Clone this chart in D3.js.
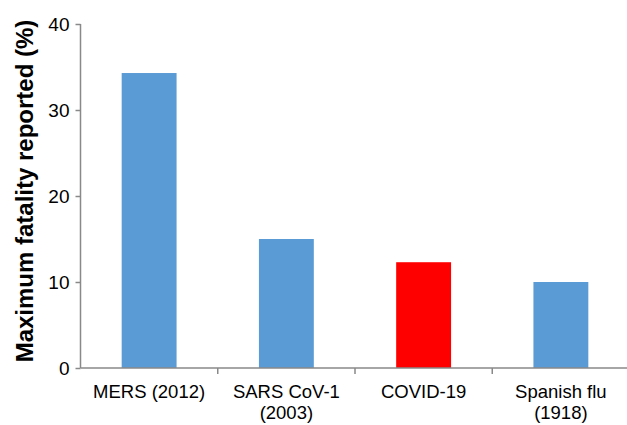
<!DOCTYPE html>
<html>
<head>
<meta charset="utf-8">
<script src="https://cdn.jsdelivr.net/npm/d3@7"></script>
<style>
  body { margin: 0; background: #fff; }
  svg { display: block; font-family: "Liberation Sans", Arial, sans-serif; }
</style>
</head>
<body>
<div id="chart"></div>
<script>
// fatality comparison

var categories = [['MERS (2012)'], ['SARS CoV-1', '(2003)'], ['COVID-19'], ['Spanish flu', '(1918)']]
var fatality = [34.3, 15, 12.3, 10]
var barColors = ['#5b9bd5', '#5b9bd5', '#ff0000', '#5b9bd5']
var yTicks = [0, 10, 20, 30, 40]

var width = 627,
	height = 425,
	axisColor = '#898989'

var xScale = d3.scaleBand()
			   .domain(d3.range(0, categories.length))
			   .range([80.5, 629.5])
			   .padding(0)

var yScale = d3.scaleLinear()
			   .domain([0, 40])
			   .range([368, 24])

var svg = d3.select('#chart')
  .append('svg')
	  .attr('width', width)
	  .attr('height', height)

// bars
var barW = xScale.bandwidth() * 0.4
svg.selectAll('rect.bar').data(fatality)
  .enter().append('rect')
	.classed('bar', true)
	.attr('x', function(d, i){ return xScale(i) + xScale.bandwidth() / 2 - barW / 2 })
	.attr('y', function(d){ return yScale(d) })
	.attr('width', barW)
	.attr('height', function(d){ return yScale(0) - yScale(d) })
	.style('fill', function(d, i){ return barColors[i] })

// y axis
var yAxis = svg.append('g')
	.attr('transform', 'translate(80.5,0)')
	.call(d3.axisLeft(yScale).tickValues(yTicks).tickSize(5).tickPadding(6))
yAxis.select('.domain').attr('stroke', axisColor).attr('stroke-width', 1.5)
	.attr('d', 'M0,' + yScale(40) + 'V' + yScale(0))
yAxis.selectAll('.tick line').attr('stroke', axisColor).attr('stroke-width', 1.5)
yAxis.selectAll('.tick text')
	.attr('fill', '#000')
	.style('font-size', '19px')
	.style('font-family', '"Liberation Sans", Arial, sans-serif')

// x axis
var xAxis = svg.append('g')
	.attr('transform', 'translate(0,' + yScale(0) + ')')
xAxis.append('line')
	.attr('x1', 80.5).attr('x2', width)
	.attr('y1', 0).attr('y2', 0)
	.attr('stroke', axisColor).attr('stroke-width', 1.5)
xAxis.selectAll('line.xtick').data(d3.range(1, categories.length))
  .enter().append('line')
	.classed('xtick', true)
	.attr('x1', function(d){ return xScale(d) })
	.attr('x2', function(d){ return xScale(d) })
	.attr('y1', 0).attr('y2', 6)
	.attr('stroke', axisColor).attr('stroke-width', 1.5)

svg.selectAll('text.cat').data(categories)
  .enter().append('text')
	.classed('cat', true)
	.attr('text-anchor', 'middle')
	.style('font-size', '18.5px')
	.attr('fill', '#000')
	.each(function(d, i){
		var t = d3.select(this)
		d.forEach(function(line, j){
			t.append('tspan')
			 .attr('x', xScale(i) + xScale.bandwidth() / 2)
			 .attr('y', 398 + j * 20.5)
			 .text(line)
		})
	})

// y title
svg.append('text')
	.attr('transform', 'translate(33,191) rotate(-90)')
	.attr('text-anchor', 'middle')
	.style('font-size', '24px')
	.style('font-weight', 'bold')
	.attr('fill', '#000')
	.text('Maximum fatality reported (%)')
</script>
</body>
</html>
